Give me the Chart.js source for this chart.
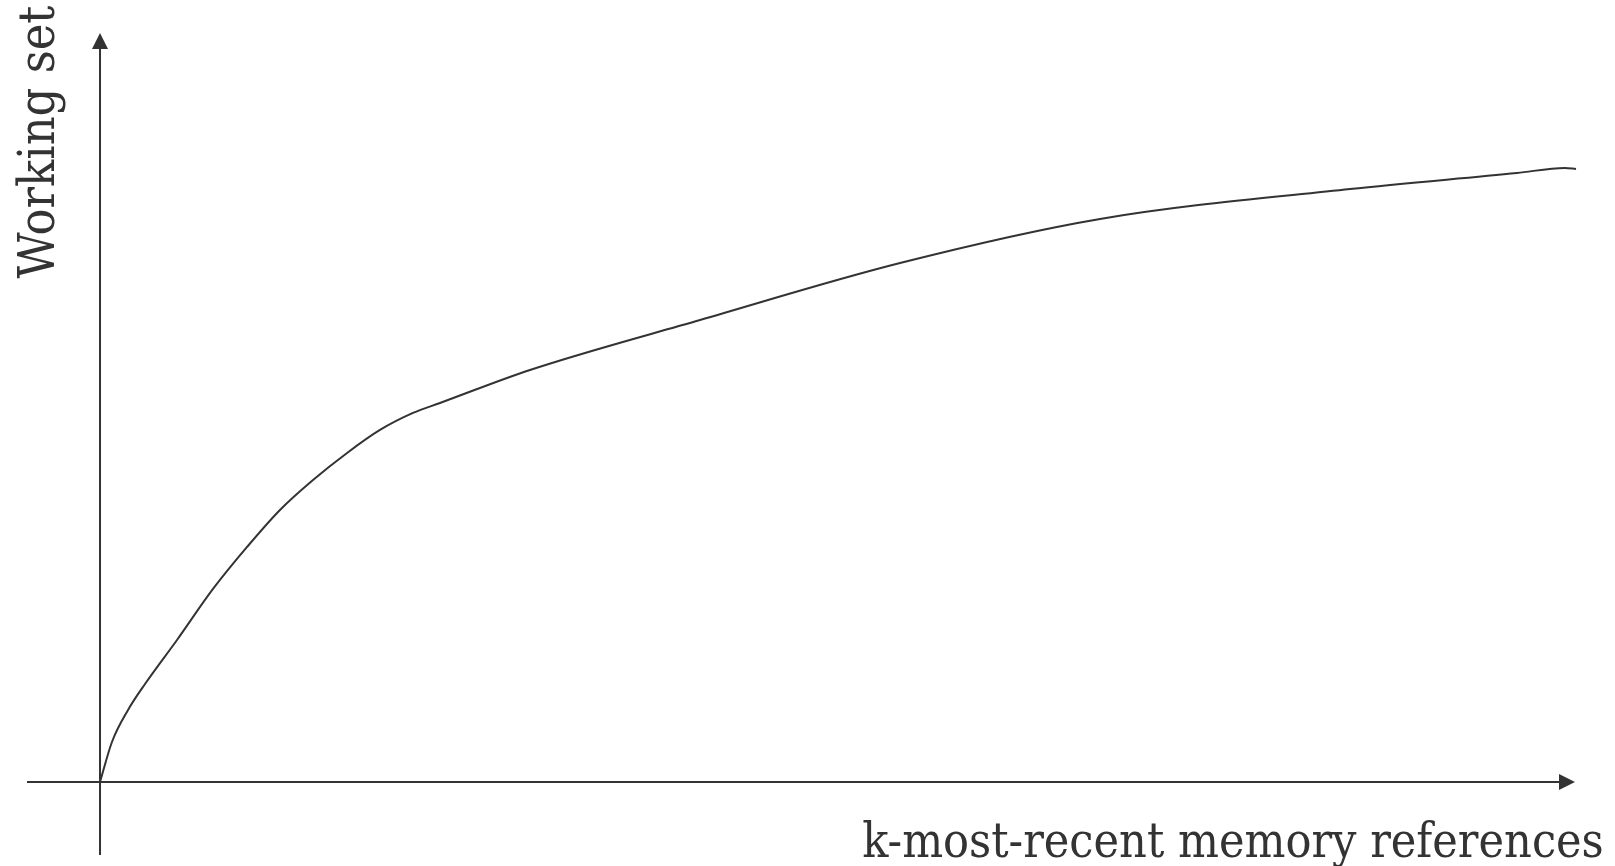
<!DOCTYPE html>
<html>
<head>
<meta charset="utf-8">
<script src="https://cdn.jsdelivr.net/npm/chart.js@4.4.1/dist/chart.umd.min.js"></script>
<style>
  html, body { margin: 0; padding: 0; background: #fff; }
  #wrap { width: 1615px; height: 866px; position: relative; }
</style>
</head>
<body>
<div id="wrap"><canvas id="ws"></canvas></div>
<script>
// curve (x: k, y: working set size, arbitrary units 0..100)
const kValues  = [0, 0.81, 1.90, 3.05, 5.22, 7.66, 9.97, 12.20, 14.44, 16.75, 18.98, 21.22, 23.05, 29.15, 40.68, 54.24, 67.80, 84.75, 96.07, 99.32, 100.07];
const wsValues = [0, 5.34, 9.61, 13.08, 18.96, 25.77, 31.38, 36.32, 40.32, 43.93, 47.00, 49.27, 50.60, 55.01, 61.68, 69.29, 75.17, 79.17, 81.31, 81.98, 81.84];

const xTitle = 'k-most-recent memory references';
const yTitle = 'Working set';

const ink = '#333333';
const serif = '"DejaVu Serif Condensed", "DejaVu Serif", serif';

// axes with arrow heads + titles
const arrowAxes = {
  id: 'arrowAxes',
  beforeDatasetsDraw(chart) {
    const { ctx, scales: { x, y } } = chart;
    const x0 = x.getPixelForValue(0), y0 = y.getPixelForValue(0);
    const xEnd = x.getPixelForValue(100), yEnd = y.getPixelForValue(100);
    ctx.save();
    ctx.strokeStyle = ink;
    ctx.fillStyle = ink;
    ctx.lineWidth = 2;
    // x axis
    ctx.beginPath();
    ctx.moveTo(x.getPixelForValue(x.min), y0);
    ctx.lineTo(xEnd - 10, y0);
    ctx.stroke();
    ctx.beginPath();
    ctx.moveTo(xEnd, y0);
    ctx.lineTo(xEnd - 16, y0 - 8);
    ctx.lineTo(xEnd - 16, y0 + 8);
    ctx.closePath();
    ctx.fill();
    // y axis
    ctx.beginPath();
    ctx.moveTo(x0, y.getPixelForValue(y.min));
    ctx.lineTo(x0, yEnd + 10);
    ctx.stroke();
    ctx.beginPath();
    ctx.moveTo(x0, yEnd);
    ctx.lineTo(x0 - 8, yEnd + 16);
    ctx.lineTo(x0 + 8, yEnd + 16);
    ctx.closePath();
    ctx.fill();
    ctx.restore();
  },
  afterDraw(chart) {
    const { ctx } = chart;
    ctx.save();
    ctx.fillStyle = ink;
    ctx.textBaseline = 'alphabetic';
    ctx.textAlign = 'center';
    ctx.font = '48px ' + serif;
    ctx.fillText(xTitle, 1233, 857);
    ctx.font = '50px ' + serif;
    ctx.translate(54, 142);
    ctx.rotate(-Math.PI / 2);
    ctx.fillText(yTitle, 0, 0);
    ctx.restore();
  }
};

new Chart(document.getElementById('ws'), {
  type: 'line',
  data: {
    datasets: [{
      data: kValues.map((k, i) => ({ x: k, y: wsValues[i] })),
      borderColor: ink,
      borderWidth: 2,
      pointRadius: 0,
      cubicInterpolationMode: 'monotone',
      fill: false
    }]
  },
  options: {
    responsive: true,
    maintainAspectRatio: false,
    animation: false,
    layout: { padding: { left: 27, right: 35, top: 30, bottom: 11 } },
    scales: {
      x: { type: 'linear', min: -4.95, max: 100.34, display: false },
      y: { type: 'linear', min: -9.75, max: 100.4, display: false }
    },
    plugins: { legend: { display: false }, tooltip: { enabled: false } }
  },
  plugins: [arrowAxes]
});
</script>
</body>
</html>
